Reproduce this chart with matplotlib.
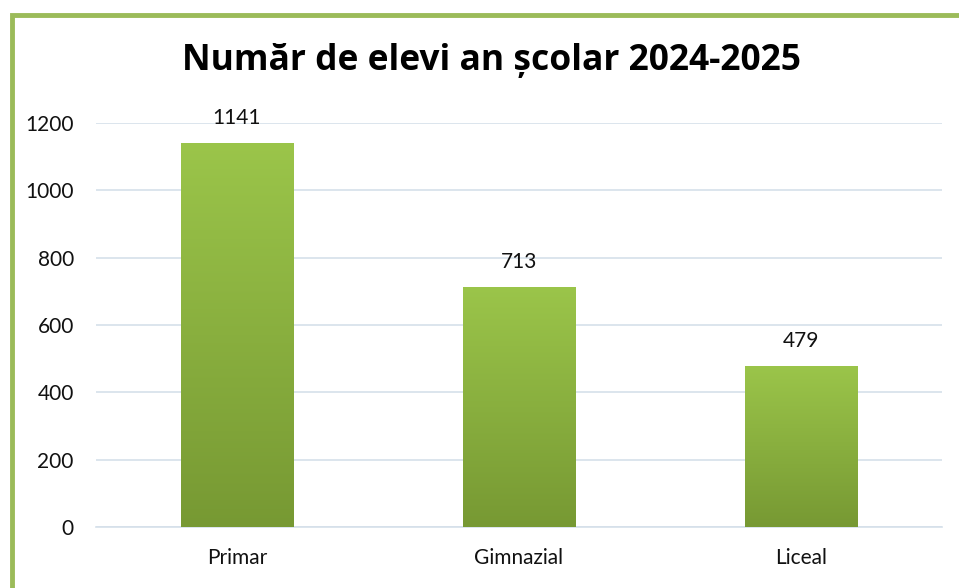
import matplotlib
matplotlib.use("Agg")
import matplotlib.pyplot as plt
import numpy as np
from matplotlib.patches import Rectangle
from matplotlib.colors import LinearSegmentedColormap

categories = ["Primar", "Gimnazial", "Liceal"]
values = [1141, 713, 479]
yticks = [0, 200, 400, 600, 800, 1000, 1200]
title = "Număr de elevi an școlar 2024-2025"

W, H = 959, 588
fig = plt.figure(figsize=(W/100, H/100), dpi=100)
fig.patch.set_facecolor("white")

# green frame
fig.patches.append(Rectangle((12/W, -0.05), 1.2, (H-15)/H + 0.05, transform=fig.transFigure,
                             fill=False, edgecolor="#9BBB59", linewidth=3.5, zorder=0))

ax = fig.add_axes([96/W, (H-527)/H, 846/W, 404/H])

cmap = LinearSegmentedColormap.from_list("g", ["#779933", "#9BC54A"])
grad = np.linspace(0, 1, 256).reshape(-1, 1)
bw = 0.4
x = np.arange(len(categories))
bars = ax.bar(x, values, width=bw, color="none", edgecolor="none", zorder=3)
for b, v in zip(bars, values):
    im = ax.imshow(grad, cmap=cmap, aspect="auto", origin="lower",
                   extent=[b.get_x(), b.get_x() + b.get_width(), 0, v], zorder=3)
    im.set_clip_path(b)
    ax.text(b.get_x() + b.get_width()/2, v + 45, str(v), ha="center", va="bottom",
            fontsize=15, family="Lato", color="#111111")
ax.set_xlim(-0.5, 2.5)
ax.set_ylim(0, 1200)

ax.set_yticks(yticks)
ax.set_yticklabels([str(t) for t in yticks], fontsize=15, family="Lato", color="#111111")
ax.set_xticks(x)
ax.set_xticklabels(categories, fontsize=15, family="Lato", color="#111111")
ax.tick_params(length=0)
ax.tick_params(axis="y", pad=16)
ax.tick_params(axis="x", pad=15)
ax.yaxis.grid(True, color="#D5E0EA", linewidth=1.2, zorder=0)
ax.set_axisbelow(True)
for s in ["top", "right", "left"]:
    ax.spines[s].set_visible(False)
ax.spines["bottom"].set_color("#D5E0EA")
ax.spines["bottom"].set_linewidth(1.2)

fig.text(491/W, 1 - 61/H, title, ha="center", va="center", fontsize=25.5,
         fontweight="bold", family="Open Sans", color="black")

fig.savefig("out.png", dpi=100)
